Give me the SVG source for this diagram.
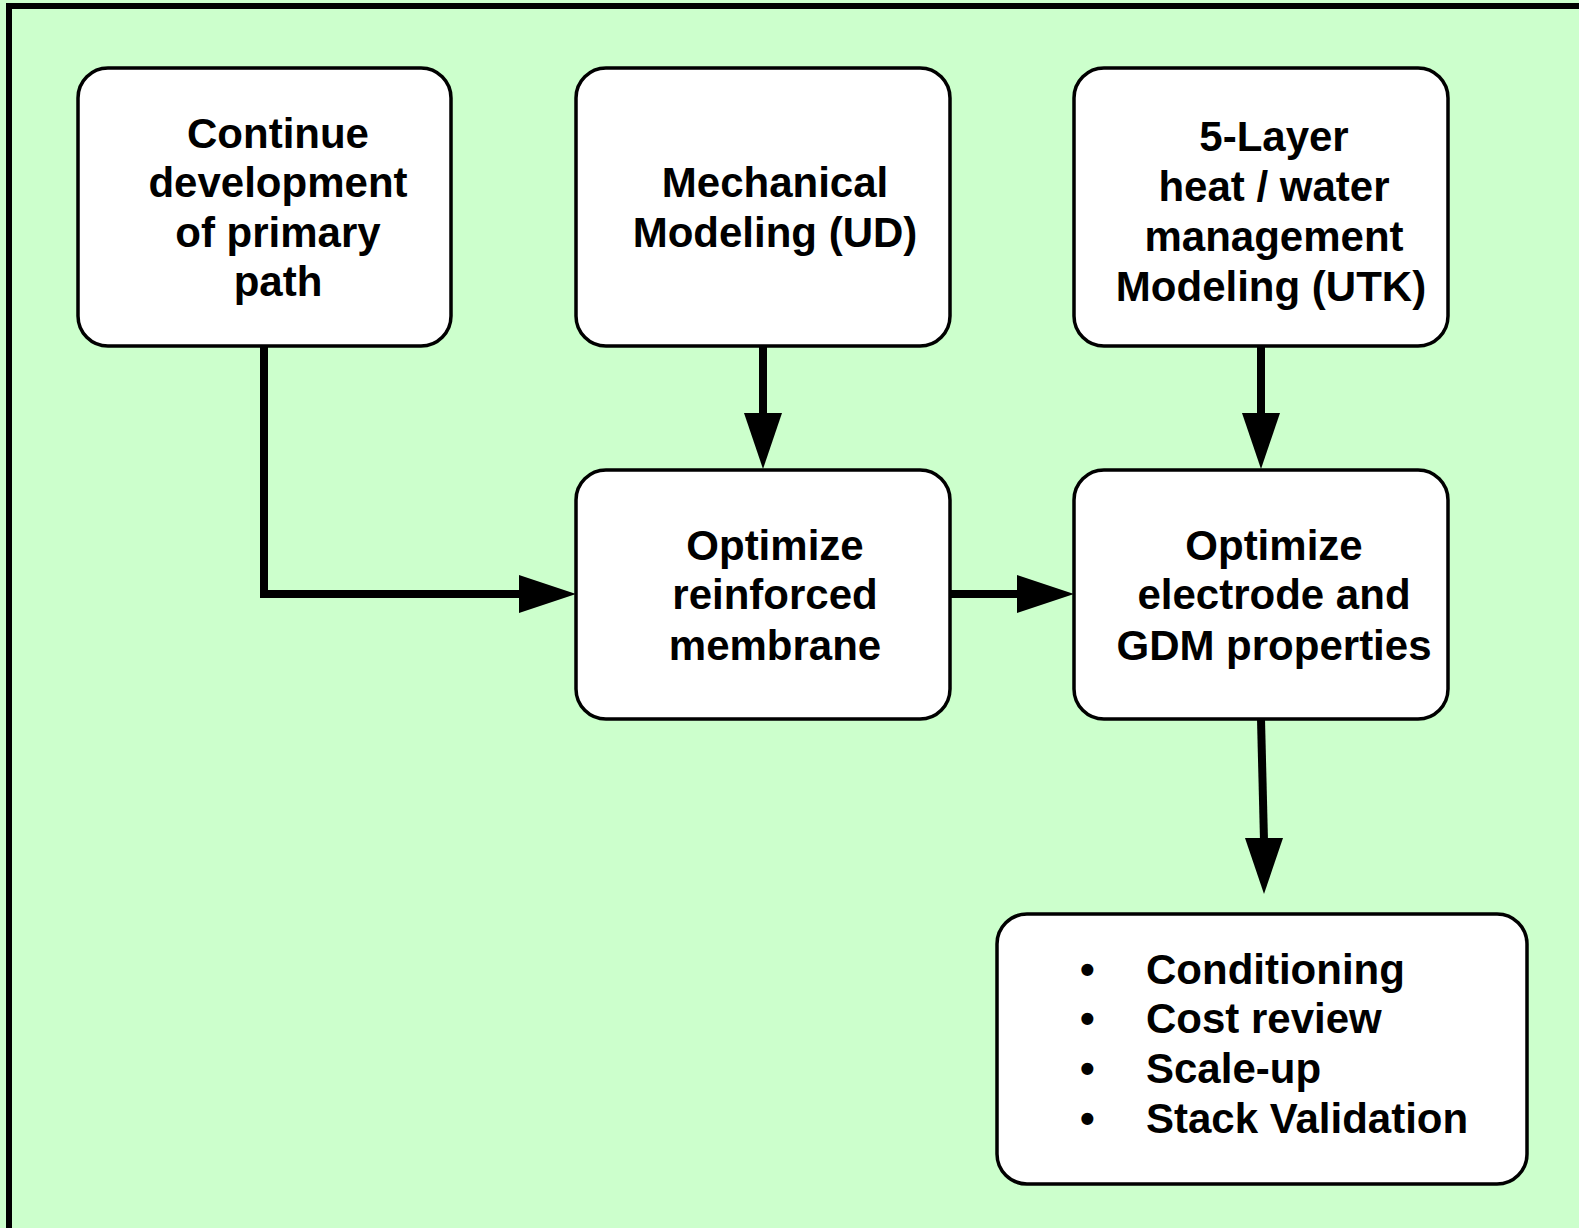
<svg xmlns="http://www.w3.org/2000/svg" width="1579" height="1228" viewBox="0 0 1579 1228">
<defs>
<style>
.node rect{fill:#fff;stroke:#000;stroke-width:3.5}
.node text{font-family:"Liberation Sans",Arial,sans-serif;font-weight:bold;font-size:42px;fill:#000;text-anchor:middle}
.node text.l{text-anchor:start}
.conn line,.conn polyline{stroke:#000;stroke-width:8;fill:none}
.conn polygon{fill:#000}
</style>
</defs>
<rect x="0" y="0" width="1579" height="1228" fill="#CCFFCC"/>
<rect x="9" y="6" width="1640" height="1300" fill="none" stroke="#000" stroke-width="6"/>
<g id="connectors" class="conn">
<polyline points="264,346 264,594 522,594"/>
<polygon points="519,575 576,594 519,613"/>
<line x1="763" y1="346" x2="763" y2="416"/>
<polygon points="744,413 782,413 763,469"/>
<line x1="950" y1="594" x2="1020" y2="594"/>
<polygon points="1017,575 1074,594 1017,613"/>
<line x1="1261" y1="346" x2="1261" y2="416"/>
<polygon points="1242,413 1280,413 1261,469"/>
<line x1="1261" y1="719" x2="1264" y2="841"/>
<polygon points="1245,838 1283,838 1264,894"/>
</g>
<g id="node1" class="node">
<rect x="78" y="68" width="373" height="278" rx="30"/>
<text x="278" y="148">Continue</text>
<text x="278" y="197">development</text>
<text x="278" y="247">of primary</text>
<text x="278" y="296">path</text>
</g>
<g id="node2" class="node">
<rect x="576" y="68" width="374" height="278" rx="30"/>
<text x="775" y="197">Mechanical</text>
<text x="775" y="247">Modeling (UD)</text>
</g>
<g id="node3" class="node">
<rect x="1074" y="68" width="374" height="278" rx="30"/>
<text x="1274" y="151">5-Layer</text>
<text x="1274" y="201">heat / water</text>
<text x="1274" y="251">management</text>
<text x="1271" y="301">Modeling (UTK)</text>
</g>
<g id="node4" class="node">
<rect x="576" y="470" width="374" height="249" rx="30"/>
<text x="775" y="560">Optimize</text>
<text x="775" y="609">reinforced</text>
<text x="775" y="660">membrane</text>
</g>
<g id="node5" class="node">
<rect x="1074" y="470" width="374" height="249" rx="30"/>
<text x="1274" y="560">Optimize</text>
<text x="1274" y="609">electrode and</text>
<text x="1274" y="660">GDM properties</text>
</g>
<g id="node6" class="node">
<rect x="997" y="914" width="530" height="270" rx="30"/>
<text class="l" x="1080" y="984">•</text>
<text class="l" x="1080" y="1033">•</text>
<text class="l" x="1080" y="1083">•</text>
<text class="l" x="1080" y="1133">•</text>
<text class="l" x="1146" y="984">Conditioning</text>
<text class="l" x="1146" y="1033">Cost review</text>
<text class="l" x="1146" y="1083">Scale-up</text>
<text class="l" x="1146" y="1133">Stack Validation</text>
</g>
</svg>
